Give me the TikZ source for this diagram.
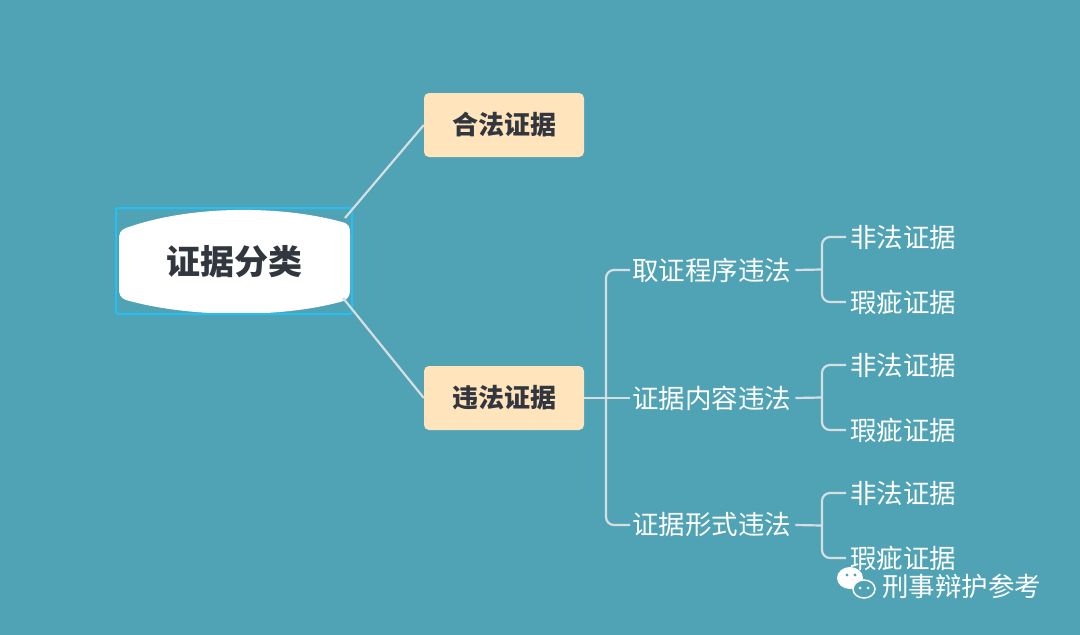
\documentclass[tikz,border=0pt]{standalone}
\usepackage{fontspec}
\newfontfamily\cjk{Noto Sans CJK SC}
\usetikzlibrary{positioning}
\definecolor{mybg}{RGB}{79,163,181}
\definecolor{mypeach}{RGB}{255,228,188}
\definecolor{myline}{RGB}{215,222,226}
\definecolor{mydark}{RGB}{50,54,62}
\definecolor{myblue}{RGB}{40,190,240}
\tikzset{
  box/.style={fill=mypeach,rounded corners=5pt,minimum width=160pt,minimum height=64pt,
    font=\cjk\bfseries\fontsize{26}{26}\selectfont,text=mydark,inner sep=0pt},
  sub/.style={font=\cjk\fontsize{26.5}{26.5}\selectfont,text=white,anchor=west,inner sep=0pt},
  conn/.style={draw=myline,line width=2.2pt},
}
\begin{document}
\begin{tikzpicture}[x=1pt,y=-1pt]
  % background
  \fill[mybg] (0,0) rectangle (1080,635);
  \useasboundingbox (0,0) rectangle (1080,635);

  % root
  \fill[white] (126,228) .. controls (190,205) and (280,205) .. (342,222)
    .. controls (350,224) and (350,228) .. (350,234) -- (350,290)
    .. controls (350,296) and (348,300) .. (340,302)
    .. controls (280,318) and (190,318) .. (126,300)
    .. controls (120,298) and (119,294) .. (119,288) -- (119,240)
    .. controls (119,234) and (120,230) .. (126,228) -- cycle;
  \draw[myblue,line width=2pt,rounded corners=2pt] (116,208) rectangle (352,314);
  \node[font=\cjk\bfseries\fontsize{34}{34}\selectfont,text=mydark] (root) at (234,262) {证据分类};
  \coordinate (rootT) at (345,218);
  \coordinate (rootB) at (343,298);

  % level 1
  \node[box] (legal) at (504,125) {合法证据};
  \node[box] (illegal) at (504,398) {违法证据};
  \draw[conn] (rootT) -- (legal.west);
  \draw[conn] (rootB) -- (illegal.west);

  % level 2
  \node[sub] (proc) at (632,270) {取证程序违法};
  \node[sub] (cont) at (632,398) {证据内容违法};
  \node[sub] (form) at (632,525) {证据形式违法};
  \coordinate (fork) at (606,398);
  \draw[conn] (illegal.east) -- (fork);
  \draw[conn,rounded corners=8pt] (proc.west) ++(-2,0) -- ++(-24,0) |- ([xshift=-2pt]form.west);
  \draw[conn] (fork) -- ([xshift=-2pt]cont.west);

  % level 3
  \foreach \mid/\y in {proc/237, cont/365, form/493}{
    \node[sub] (\mid-a) at (850,\y) {非法证据};
    \node[sub] (\mid-b) at (850,\y+65) {瑕疵证据};
    \coordinate (\mid-k) at (822,\y+32.5);
    \draw[conn] (\mid.east) ++(4,0) -- (\mid-k);
    \draw[conn,rounded corners=8pt] (\mid-a.west) ++(-4,0) -- (\mid-k |- \mid-a) -- (\mid-k |- \mid-b) -- ([xshift=-4pt]\mid-b.west);
  }

  % watermark
  \fill[white] (850,578) ellipse (13pt and 11pt);
  \fill[mybg] (847,575) circle (1.6pt) (855,575) circle (1.6pt);
  \draw[white,fill=mybg,line width=1.5pt] (864,589) ellipse (11pt and 9pt);
  \fill[white] (860,588) circle (1.5pt) (868,588) circle (1.5pt);
  \node[font=\cjk\fontsize{26.5}{26.5}\selectfont,text=white,anchor=west,inner sep=0pt] (mark) at (882,586) {刑事辩护参考};
\end{tikzpicture}
\end{document}
